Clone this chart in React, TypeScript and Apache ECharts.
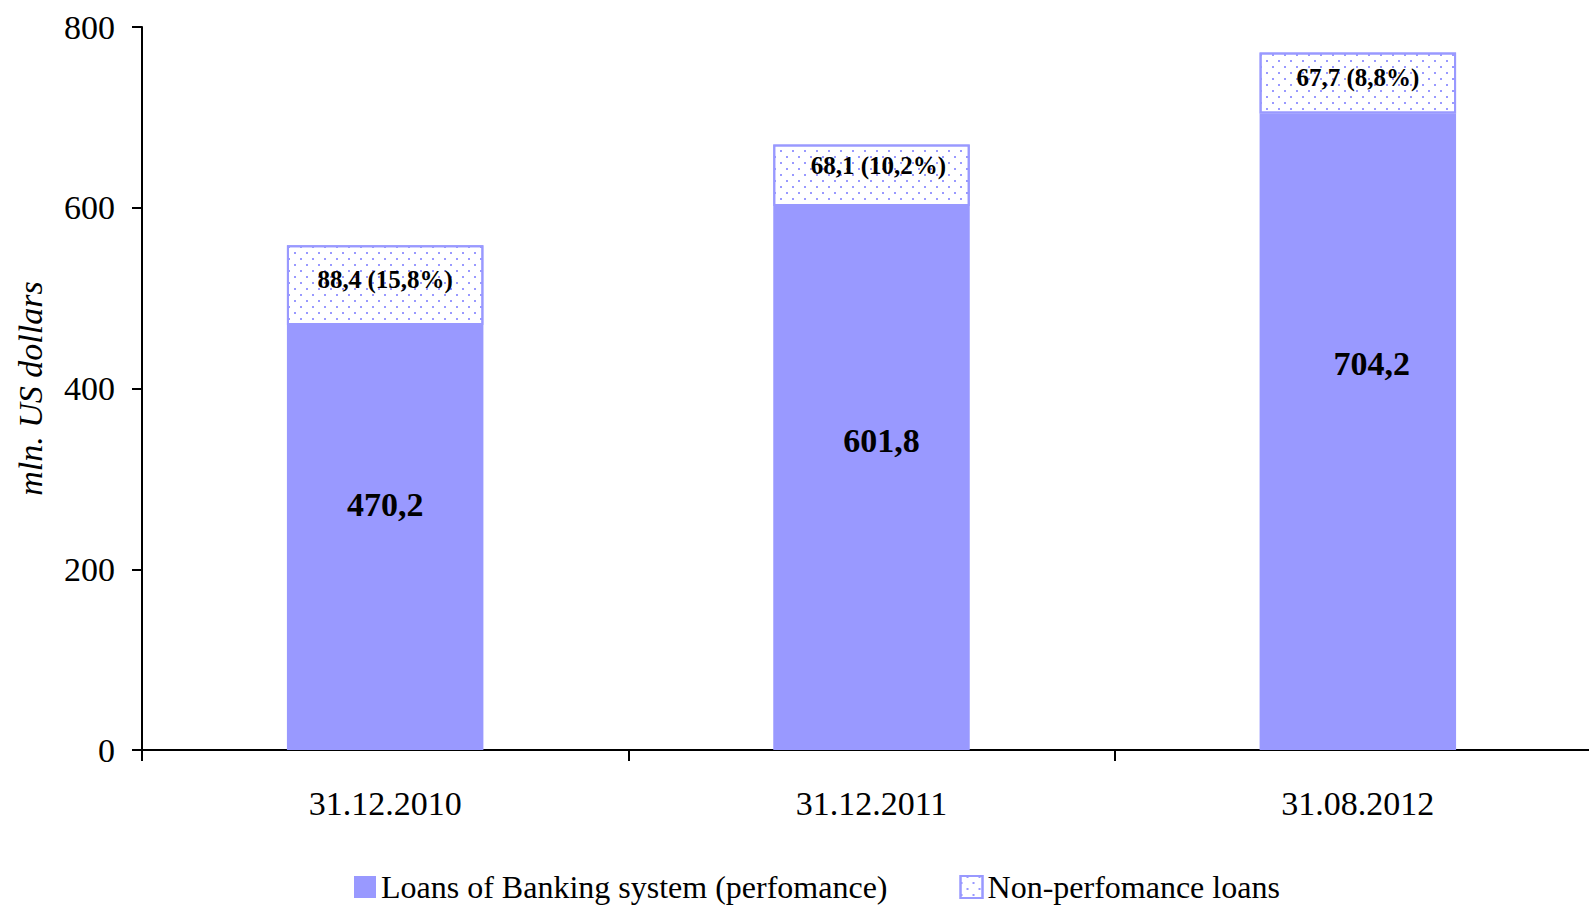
import React, { useEffect, useRef } from "react";
import * as echarts from "echarts";

const categories = ["31.12.2010", "31.12.2011", "31.08.2012"];
const performingLoans = [470.2, 601.8, 704.2];
const nonPerformingLoans = [88.4, 68.1, 67.7];
const nonPerformingShare = ["15,8%", "10,2%", "8,8%"];
const yTicks = [0, 200, 400, 600, 800];

const FONT = "'Liberation Serif', 'Times New Roman', serif";
const BAR = "#9999ff";

const mainOffsets = [[0, -33], [10, -38], [14, -68]];
const topOffsets = [[0, -6], [7, -10], [0, -5]];

const fmt = (v: number) => v.toFixed(1).replace(".", ",");

export default function App() {
  const ref = useRef<HTMLDivElement>(null);
  useEffect(() => {
    if (!ref.current) return;
    const chart = echarts.init(ref.current, null, { renderer: "svg" });
    const decal = {
      symbol: "rect",
      symbolSize: 1,
      color: BAR,
      dashArrayX: [[2, 10], [0, 6, 2, 4]],
      dashArrayY: [2, 4],
      rotation: 0,
    };
    chart.setOption({
      animation: false,
      backgroundColor: "#ffffff",
      textStyle: { fontFamily: FONT },
      grid: { left: 142, right: 0, top: 27, bottom: 156, containLabel: false },
      legend: {
        left: 349,
        top: 866,
        icon: "rect",
        itemWidth: 22,
        itemHeight: 22,
        itemGap: 72,
        textStyle: {
          fontFamily: FONT,
          fontSize: 32,
          lineHeight: 32,
          color: "#000",
        },
        data: [
          { name: "Loans of Banking system (perfomance)" },
          { name: "Non-perfomance loans" },
        ],
      },
      xAxis: {
        type: "category",
        data: categories,
        axisLine: { show: true, lineStyle: { color: "#000", width: 2 } },
        axisTick: { show: true, interval: 0, alignWithLabel: false, length: 11, lineStyle: { color: "#000", width: 2 } },
        axisLabel: { fontFamily: FONT, fontSize: 34, color: "#000", margin: 36 },
      },
      yAxis: {
        type: "value",
        min: yTicks[0],
        max: yTicks[yTicks.length - 1],
        interval: 200,
        name: "mln. US dollars",
        nameLocation: "middle",
        nameGap: 95,
        nameTextStyle: { fontFamily: FONT, fontSize: 34, fontStyle: "italic", color: "#000" },
        splitLine: { show: false },
        axisLine: { show: true, lineStyle: { color: "#000", width: 2 } },
        axisTick: { show: true, length: 10, lineStyle: { color: "#000", width: 2 } },
        axisLabel: { fontFamily: FONT, fontSize: 34, color: "#000", margin: 27 },
      },
      series: [
        {
          name: "Loans of Banking system (perfomance)",
          type: "bar",
          stack: "total",
          barWidth: "40.4%",
          itemStyle: { color: BAR },
          data: performingLoans.map((v, i) => ({
            value: v,
            label: { offset: mainOffsets[i] },
          })),
          label: {
            show: true,
            position: "inside",
            fontFamily: FONT,
            fontSize: 34,
            fontWeight: "bold",
            color: "#000",
            formatter: (p: any) => fmt(p.value),
          },
        },
        {
          name: "Non-perfomance loans",
          type: "bar",
          stack: "total",
          barWidth: "40.4%",
          itemStyle: { color: "#ffffff", borderColor: BAR, borderWidth: 2, decal },
          data: nonPerformingLoans.map((v, i) => ({
            value: v,
            label: { offset: topOffsets[i] },
          })),
          label: {
            show: true,
            position: "inside",
            fontFamily: FONT,
            fontSize: 25,
            fontWeight: "bold",
            color: "#000",
            formatter: (p: any) => `${fmt(p.value)} (${nonPerformingShare[p.dataIndex]})`,
          },
        },
      ],
    });
    return () => chart.dispose();
  }, []);
  return (
    <div
      style={{
        position: "fixed",
        left: 0,
        top: 0,
        width: 1589,
        height: 906,
        overflow: "hidden",
        background: "#fff",
      }}
    >
      <div ref={ref} style={{ width: 1601, height: 906 }} />
    </div>
  );
}
